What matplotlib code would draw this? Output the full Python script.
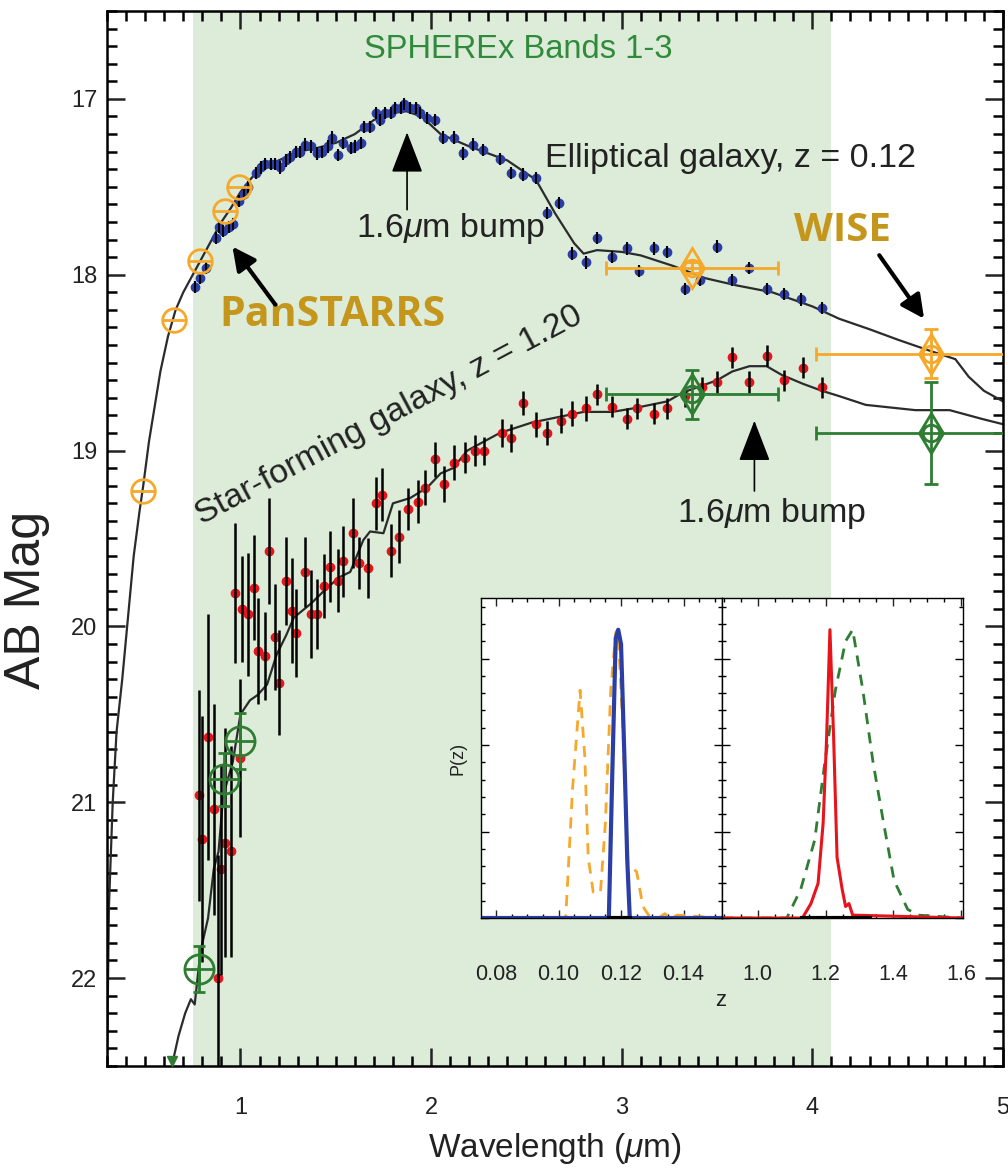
#!/usr/bin/env python3
"""SPHEREx SED example: elliptical and star-forming galaxy with P(z) inset."""

import matplotlib
matplotlib.use('Agg')
import matplotlib.pyplot as plt
from matplotlib.ticker import MultipleLocator

plt.rcParams['font.family'] = ['Liberation Sans', 'DejaVu Sans']
plt.rcParams['mathtext.fontset'] = 'custom'
plt.rcParams['mathtext.rm'] = 'Liberation Sans'
plt.rcParams['mathtext.it'] = 'Liberation Sans:italic'

# Colours
SHADE = '#dcecd8'
BLUE = '#2b3ea6'
RED = '#e8141c'
ORANGE = '#f6a82a'
GREEN = '#2e7d32'
GOLD = '#c5961c'
MODEL = '#2b2b2b'

# Elliptical galaxy (z = 0.12): SPHEREx photometry
ell_wave = [0.76, 0.79, 0.82, 0.87, 0.89, 0.91, 0.94, 0.96, 0.99, 1.02,
            1.04, 1.08, 1.11, 1.13, 1.16, 1.18, 1.21, 1.24, 1.26, 1.29,
            1.31, 1.34, 1.37, 1.40, 1.43, 1.46, 1.48, 1.51, 1.54, 1.58,
            1.60, 1.63, 1.65, 1.68, 1.71, 1.73, 1.76, 1.79, 1.81, 1.84,
            1.86, 1.89, 1.92, 1.94, 1.98, 2.02, 2.06, 2.12, 2.17, 2.22,
            2.27, 2.36, 2.42, 2.48, 2.55, 2.61, 2.67, 2.74, 2.81, 2.87,
            2.95, 3.03, 3.09, 3.17, 3.24, 3.33, 3.41, 3.50, 3.58, 3.67,
            3.76, 3.85, 3.94, 4.05]
ell_mag = [18.07, 18.02, 17.96, 17.79, 17.73, 17.75, 17.73, 17.71, 17.58, 17.54,
           17.50, 17.42, 17.39, 17.37, 17.37, 17.37, 17.39, 17.35, 17.33, 17.30,
           17.30, 17.26, 17.27, 17.31, 17.30, 17.27, 17.22, 17.32, 17.25, 17.28,
           17.27, 17.25, 17.16, 17.16, 17.08, 17.12, 17.08, 17.08, 17.05, 17.05,
           17.03, 17.05, 17.05, 17.08, 17.11, 17.12, 17.22, 17.22, 17.31, 17.26,
           17.29, 17.34, 17.42, 17.43, 17.45, 17.65, 17.59, 17.88, 17.93, 17.79,
           17.90, 17.85, 17.98, 17.85, 17.87, 18.08, 18.03, 17.84, 18.03, 17.96,
           18.08, 18.11, 18.14, 18.19]
ELL_ERR = 0.035

# Elliptical model SED
ell_model_wave = [0.30, 0.31, 0.33, 0.35, 0.38, 0.41, 0.44, 0.47, 0.49, 0.52,
                  0.55, 0.58, 0.62, 0.66, 0.70, 0.75, 0.80, 0.85, 0.90, 0.95,
                  1.00, 1.05, 1.10, 1.20, 1.30, 1.40, 1.50, 1.60, 1.70, 1.80,
                  1.87, 1.95, 2.05, 2.20, 2.40, 2.55, 2.65, 2.75, 2.80, 2.87,
                  3.00, 3.10, 3.27, 3.44, 3.60, 3.79, 4.00, 4.14, 4.30, 4.45,
                  4.61, 4.75, 4.82, 4.90, 5.00]
ell_model_mag = [22.5, 21.6, 21.0, 20.6, 20.3, 19.95, 19.6, 19.35, 19.2, 18.95,
                 18.75, 18.55, 18.35, 18.2, 18.1, 18.0, 17.9, 17.8, 17.7, 17.62,
                 17.53, 17.46, 17.4, 17.35, 17.3, 17.28, 17.25, 17.2, 17.12, 17.08,
                 17.07, 17.1, 17.2, 17.27, 17.35, 17.46, 17.65, 17.82, 17.88, 17.86,
                 17.87, 17.89, 17.95, 18.02, 18.06, 18.1, 18.18, 18.25, 18.31, 18.37,
                 18.43, 18.48, 18.58, 18.66, 18.72]

# Star-forming galaxy (z = 1.20): SPHEREx photometry
sf_wave = [0.78, 0.80, 0.83, 0.86, 0.88, 0.90, 0.92, 0.95, 0.97, 1.00,
           1.01, 1.04, 1.07, 1.09, 1.13, 1.15, 1.18, 1.20, 1.24, 1.27,
           1.29, 1.34, 1.37, 1.40, 1.44, 1.47, 1.51, 1.54, 1.59, 1.62,
           1.67, 1.71, 1.74, 1.79, 1.83, 1.88, 1.93, 1.97, 2.02, 2.07,
           2.12, 2.18, 2.23, 2.28, 2.37, 2.42, 2.48, 2.55, 2.61, 2.68,
           2.74, 2.81, 2.87, 2.95, 3.03, 3.08, 3.17, 3.24, 3.33, 3.42,
           3.50, 3.58, 3.67, 3.76, 3.85, 3.95, 4.05]
sf_mag = [20.96, 21.21, 20.63, 21.04, 22.00, 21.38, 21.23, 21.28, 19.81, 20.75,
          19.90, 19.93, 19.78, 20.14, 20.17, 19.57, 20.06, 20.32, 19.74, 19.91,
          20.04, 19.69, 19.93, 19.93, 19.77, 19.66, 19.74, 19.63, 19.47, 19.64,
          19.67, 19.30, 19.25, 19.57, 19.49, 19.33, 19.29, 19.21, 19.05, 19.19,
          19.07, 19.04, 19.00, 19.00, 18.90, 18.93, 18.73, 18.85, 18.90, 18.83,
          18.79, 18.76, 18.68, 18.75, 18.82, 18.76, 18.79, 18.76, 18.69, 18.64,
          18.61, 18.47, 18.61, 18.46, 18.60, 18.53, 18.64]
sf_err = [0.60, 0.70, 0.70, 0.60, 0.70, 0.60, 0.65, 0.60, 0.40, 0.45,
          0.30, 0.35, 0.30, 0.30, 0.25, 0.30, 0.30, 0.30, 0.25, 0.30,
          0.25, 0.20, 0.25, 0.20, 0.18, 0.20, 0.18, 0.20, 0.20, 0.15,
          0.17, 0.15, 0.15, 0.15, 0.15, 0.12, 0.12, 0.10, 0.10, 0.10,
          0.10, 0.09, 0.09, 0.08, 0.08, 0.08, 0.07, 0.07, 0.07, 0.07,
          0.07, 0.07, 0.06, 0.06, 0.06, 0.06, 0.06, 0.06, 0.06, 0.06,
          0.06, 0.06, 0.06, 0.06, 0.06, 0.06, 0.06]

# Star-forming model SED
sf_model_wave = [0.64, 0.675, 0.71, 0.74, 0.76, 0.79, 0.83, 0.86, 0.885, 0.91,
                 0.96, 1.00, 1.05, 1.09, 1.14, 1.19, 1.24, 1.28, 1.37, 1.455,
                 1.52, 1.576, 1.644, 1.68, 1.75, 1.80, 1.89, 1.98, 2.05, 2.115,
                 2.19, 2.36, 2.53, 2.80, 2.95, 3.06, 3.24, 3.32, 3.50, 3.58,
                 3.67, 3.76, 3.84, 3.95, 4.05, 4.14, 4.28, 4.54, 4.72, 4.89, 5.00]
sf_model_mag = [22.5, 22.33, 22.2, 22.12, 22.15, 21.85, 21.66, 21.38, 21.28, 20.96,
                20.77, 20.5, 20.42, 20.39, 20.33, 20.16, 20.05, 19.95, 19.87, 19.78,
                19.72, 19.69, 19.51, 19.46, 19.47, 19.30, 19.27, 19.21, 19.13, 19.1,
                19.0, 18.9, 18.84, 18.78, 18.78, 18.76, 18.72, 18.67, 18.6, 18.55,
                18.52, 18.52, 18.57, 18.62, 18.66, 18.69, 18.74, 18.77, 18.77, 18.82, 18.85]

# Ground-based / WISE photometry
ps_ell_wave = [0.49, 0.65, 0.79, 0.92, 0.99]
ps_ell_mag = [19.23, 18.26, 17.92, 17.64, 17.50]
ps_sf_wave = [0.785, 0.915, 1.00]
ps_sf_mag = [21.95, 20.87, 20.65]
ps_sf_err = [0.13, 0.15, 0.16]
ps_sf_limit = (0.64, 22.47)
wise_ell_wave = [3.37, 4.62]
wise_ell_mag = [17.96, 18.45]
wise_ell_xerr = [0.45, 0.60]
wise_ell_yerr = [0.03, 0.14]
wise_sf_wave = [3.37, 4.62]
wise_sf_mag = [18.68, 18.90]
wise_sf_xerr = [0.45, 0.60]
wise_sf_yerr = [0.14, 0.29]

# P(z) inset
pz_ell_z_orange = [0.075, 0.1023, 0.1045, 0.1069, 0.1084, 0.1095, 0.1111, 0.1134, 0.1150,
                   0.1167, 0.1183, 0.1190, 0.1205, 0.1222, 0.1250, 0.1270, 0.1288,
                   0.1320, 0.1340, 0.1360, 0.1380, 0.152]
pz_ell_orange = [0, 0, 0.45, 0.79, 0.56, 0.21, 0.09, 0.087, 0.33,
                 0.79, 0.99, 1.0, 0.68, 0.19, 0.16, 0.04, 0.01,
                 0.0, 0.015, 0.0, 0.01, 0]
pz_ell_z_blue = [0.075, 0.1161, 0.1172, 0.1183, 0.1191, 0.1200, 0.1211, 0.1220, 0.1228, 0.152]
pz_ell_blue = [0, 0, 0.5, 0.97, 1.0, 0.95, 0.55, 0.2, 0, 0]
pz_sf_z_red = [0.895, 1.132, 1.157, 1.178, 1.193, 1.203, 1.213, 1.224, 1.234,
               1.249, 1.259, 1.269, 1.280, 1.605]
pz_sf_red = [0, 0, 0.05, 0.12, 0.33, 0.62, 1.0, 0.62, 0.21,
             0.10, 0.04, 0.05, 0.01, 0]
pz_sf_z_green = [0.895, 1.086, 1.127, 1.168, 1.198, 1.229, 1.259, 1.280, 1.310,
                 1.340, 1.371, 1.402, 1.442, 1.473, 1.605]
pz_sf_green = [0, 0, 0.10, 0.27, 0.54, 0.79, 0.96, 1.0, 0.79,
               0.54, 0.33, 0.13, 0.03, 0.01, 0]


def style_axes(ax, major_len, minor_len, lw):
	ax.tick_params(which='both', direction='in', top=True, right=True, width=lw)
	ax.tick_params(which='major', length=major_len)
	ax.tick_params(which='minor', length=minor_len)
	for s in ax.spines.values():
		s.set_linewidth(lw)


fig = plt.figure(figsize=(10.08, 11.71), dpi=100)
ax = fig.add_axes([107 / 1008, 105 / 1171, 896 / 1008, 1055 / 1171])

ax.axvspan(0.75, 4.1, color=SHADE, zorder=0, lw=0)

# model SEDs
ax.plot(ell_model_wave, ell_model_mag, color=MODEL, lw=1.6, zorder=2)
ax.plot(sf_model_wave, sf_model_mag, color=MODEL, lw=1.6, zorder=2)

# SPHEREx photometry
ax.plot(ell_wave, ell_mag, 'o', color=BLUE, ms=6, zorder=3)
ax.errorbar(ell_wave, ell_mag, yerr=ELL_ERR, fmt='none', ecolor='black', elinewidth=1.5, zorder=4)
ax.plot(sf_wave, sf_mag, 'o', color=RED, ms=6, zorder=3)
ax.errorbar(sf_wave, sf_mag, yerr=sf_err, fmt='none', ecolor='black', elinewidth=1.8, zorder=4)

# ground-based photometry
ax.plot(ps_ell_wave, ps_ell_mag, 'o', mfc='none', mec=ORANGE, ms=17, mew=2, zorder=5)
ax.plot(ps_ell_wave, ps_ell_mag, '_', color=ORANGE, ms=17, mew=2, zorder=5)
ax.errorbar(ps_sf_wave, ps_sf_mag, yerr=ps_sf_err, fmt='o', mfc='none', mec=GREEN, ecolor=GREEN,
	ms=21, mew=2, elinewidth=2, capsize=4, zorder=5)
ax.plot(ps_sf_wave, ps_sf_mag, '+', color=GREEN, ms=21, mew=2, zorder=5)
ax.plot(*ps_sf_limit, 'v', color=GREEN, ms=7, zorder=5)

# WISE photometry
ax.errorbar(wise_ell_wave, wise_ell_mag, xerr=wise_ell_xerr, yerr=wise_ell_yerr, fmt='d', mfc='none',
	mec=ORANGE, ecolor=ORANGE, ms=20, mew=2, elinewidth=2, capsize=5, zorder=5)
ax.plot(wise_ell_wave, wise_ell_mag, 'o', mfc='none', mec=ORANGE, ms=12, mew=2, zorder=5)
ax.errorbar(wise_sf_wave, wise_sf_mag, xerr=wise_sf_xerr, yerr=wise_sf_yerr, fmt='d', mfc='none',
	mec=GREEN, ecolor=GREEN, ms=20, mew=2, elinewidth=2, capsize=5, zorder=5)
ax.plot(wise_sf_wave, wise_sf_mag, 'o', mfc='none', mec=GREEN, ms=12, mew=2, zorder=5)

# annotations
ax.text(2.455, 16.72, 'SPHEREx Bands 1-3', color='#2f8a3b', fontsize=23.5, ha='center', va='center')
ax.text(2.60, 17.34, 'Elliptical galaxy, z = 0.12', color='#222222', fontsize=24.5, ha='left', va='center')
ax.text(1.78, 18.80, 'Star-forming galaxy, z = 1.20', color='#222222', fontsize=24.5,
	ha='center', va='center', rotation=28, rotation_mode='anchor')
ax.text(2.10, 17.735, r'1.6$\mu$m bump', color='#222222', fontsize=24.5, ha='center', va='center')
ax.text(3.785, 19.355, r'1.6$\mu$m bump', color='#222222', fontsize=24.5, ha='center', va='center')
bump_arrow = dict(arrowstyle='-|>,head_length=1.3,head_width=0.5', color='black', lw=1.2,
	mutation_scale=20, shrinkA=0, shrinkB=0)
ax.annotate('', xy=(1.874, 17.19), xytext=(1.874, 17.63), arrowprops=bump_arrow, zorder=6)
ax.annotate('', xy=(3.696, 18.83), xytext=(3.696, 19.23), arrowprops=bump_arrow, zorder=6)

ax.text(1.482, 18.23, 'PanSTARRS', color=GOLD, fontsize=29.5, fontweight='bold',
	family=['Open Sans', 'DejaVu Sans'], ha='center', va='center')
ax.text(4.157, 17.747, 'WISE', color=GOLD, fontsize=29, fontweight='bold',
	family=['Open Sans', 'DejaVu Sans'], ha='center', va='center')
thick_arrow = dict(arrowstyle='-|>,head_length=0.7,head_width=0.35', color='black', lw=3,
	mutation_scale=20, shrinkA=0, shrinkB=0)
ax.annotate('', xy=(0.958, 17.84), xytext=(1.183, 18.17), arrowprops=thick_arrow, zorder=6)
ax.annotate('', xy=(4.586, 18.25), xytext=(4.351, 17.889), arrowprops=thick_arrow, zorder=6)

ax.set_xlim(0.3, 5.0)
ax.set_ylim(22.5, 16.5)
ax.set_xticks([1, 2, 3, 4, 5])
ax.set_yticks([17, 18, 19, 20, 21, 22])
ax.xaxis.set_minor_locator(MultipleLocator(0.1))
ax.yaxis.set_minor_locator(MultipleLocator(0.1))
style_axes(ax, 13, 7, 1.8)
ax.tick_params(axis='x', labelsize=17, pad=22, colors='#222222')
ax.tick_params(axis='y', labelsize=17, pad=7, colors='#222222')
ax.set_xlabel(r'Wavelength ($\mu$m)', fontsize=24, color='#222222')
ax.xaxis.set_label_coords(0.5, -0.062)
ax.set_ylabel('AB Mag', fontsize=36, color='#222222')
ax.yaxis.set_label_coords(-0.064, 0.442)

# P(z) inset
ins_l = fig.add_axes([481 / 1008, 253 / 1171, 241 / 1008, 320 / 1171])
ins_r = fig.add_axes([722 / 1008, 253 / 1171, 241 / 1008, 320 / 1171])

ins_l.plot(pz_ell_z_orange, pz_ell_orange, color=ORANGE, lw=2, ls=(0, (4, 3)))
ins_l.plot(pz_ell_z_blue, pz_ell_blue, color=BLUE, lw=3)
ins_l.plot([0.1161, 0.1228], [0, 0], color='black', lw=3)
ins_l.set_xlim(0.0752, 0.1523)
ins_l.set_xticks([0.08, 0.10, 0.12, 0.14])
ins_l.set_xticklabels(['0.08', '0.10', '0.12', '0.14'])
ins_l.xaxis.set_minor_locator(MultipleLocator(0.005))

ins_r.plot(pz_sf_z_green, pz_sf_green, color=GREEN, lw=2, ls=(0, (4, 3)))
ins_r.plot(pz_sf_z_red, pz_sf_red, color=RED, lw=2.2)
ins_r.plot([1.132, 1.33], [0, 0], color='black', lw=3)
ins_r.set_xlim(0.895, 1.605)
ins_r.set_xticks([1.0, 1.2, 1.4, 1.6])
ins_r.set_xticklabels(['1.0', '1.2', '1.4', '1.6'])
ins_r.xaxis.set_minor_locator(MultipleLocator(0.05))

for a in (ins_l, ins_r):
	a.set_ylim(0, 1.11)
	a.set_yticks([0, 0.3, 0.6, 0.9])
	a.yaxis.set_minor_locator(MultipleLocator(0.06))
	a.set_yticklabels([])
	style_axes(a, 6, 3, 1.0)
	a.tick_params(axis='x', labelsize=15.5, pad=33, colors='#222222')
	a.set_facecolor('white')

ins_l.set_ylabel('P(z)', fontsize=13, color='#222222')
ins_l.yaxis.set_label_coords(-0.06, 0.5)
fig.text(721 / 1008, 1 - 1000 / 1171, 'z', fontsize=16, color='#222222', ha='center', va='center')

fig.savefig('out.png', dpi=100)
plt.close(fig)
